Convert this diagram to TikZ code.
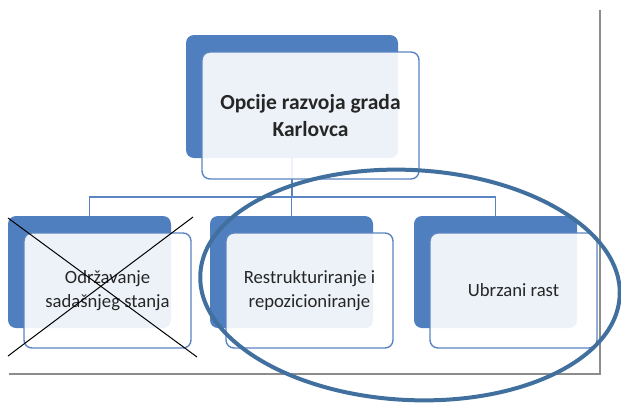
\documentclass[tikz,border=0pt]{standalone}
\usepackage{fontspec}
\setmainfont{Carlito}
\usepackage{tikz}
\usetikzlibrary{calc}
\definecolor{boxblue}{HTML}{4F7FBE}
\definecolor{edgeblue}{HTML}{5B85C2}
\definecolor{ringblue}{HTML}{41709F}
\definecolor{framegray}{HTML}{8C8C8C}
\tikzstyle{back} = [rectangle, rounded corners=8pt, fill=boxblue,
    minimum width=163pt, minimum height=112pt, inner sep=0pt]
\tikzstyle{front} = [rectangle, rounded corners=8pt, draw=edgeblue, line width=1.4pt,
    fill=white, fill opacity=0.9, text opacity=1, text=black!85,
    minimum width=167pt, minimum height=115pt, inner sep=0pt, align=center,
    font=\fontsize{18.7}{24}\selectfont]
\tikzset{conn/.style={draw=edgeblue, line width=1.8pt}}

\begin{document}
\begin{tikzpicture}[x=1pt,y=-1pt]
\useasboundingbox (0,0) rectangle (621,402);
    %back boxes
    \node[back, minimum width=212pt, minimum height=123pt] (tb) at (292,96.5) {};
    \node[back] (lb) at (89.5,272) {};
    \node[back] (mb) at (291.5,272) {};
    \node[back] (rb) at (495.5,272) {};
    %connectors
    \coordinate (bus) at (292,197);
    \foreach \c in {lb,mb,rb}
        \draw[conn] (tb.south) -- (tb.south |- bus) -| (\c.north);
    %front boxes
    \node[front, minimum width=217pt, minimum height=127pt,
        font=\fontsize{21.5}{27}\selectfont\bfseries] (tf) at ([shift={(18.5,19)}]tb) {Opcije razvoja grada\\Karlovca};
    \node[front] (lf) at ([shift={(18,18.5)}]lb) {Održavanje\\sadašnjeg stanja};
    \node[front] (mf) at ([shift={(18,18.5)}]mb) {Restrukturiranje i\\repozicioniranje};
    \node[front] (rf) at ([shift={(18,18.5)}]rb) {Ubrzani rast};
    %cross
    \coordinate (x1) at (8,218);
    \coordinate (x2) at (197,357);
    \coordinate (x3) at (193,217);
    \coordinate (x4) at (8,356);
    \draw[line width=1pt] (x1) -- (x2);
    \draw[line width=1pt] (x3) -- (x4);
    %frame
    \draw[framegray, line width=1.5pt] (9,374) -- (600,374) -- (600,10);
    %ring
    \draw[ringblue, line width=4pt, rotate around={-3:(410,285)}] (410,285) ellipse [x radius=210, y radius=115];
\end{tikzpicture}
\end{document}
